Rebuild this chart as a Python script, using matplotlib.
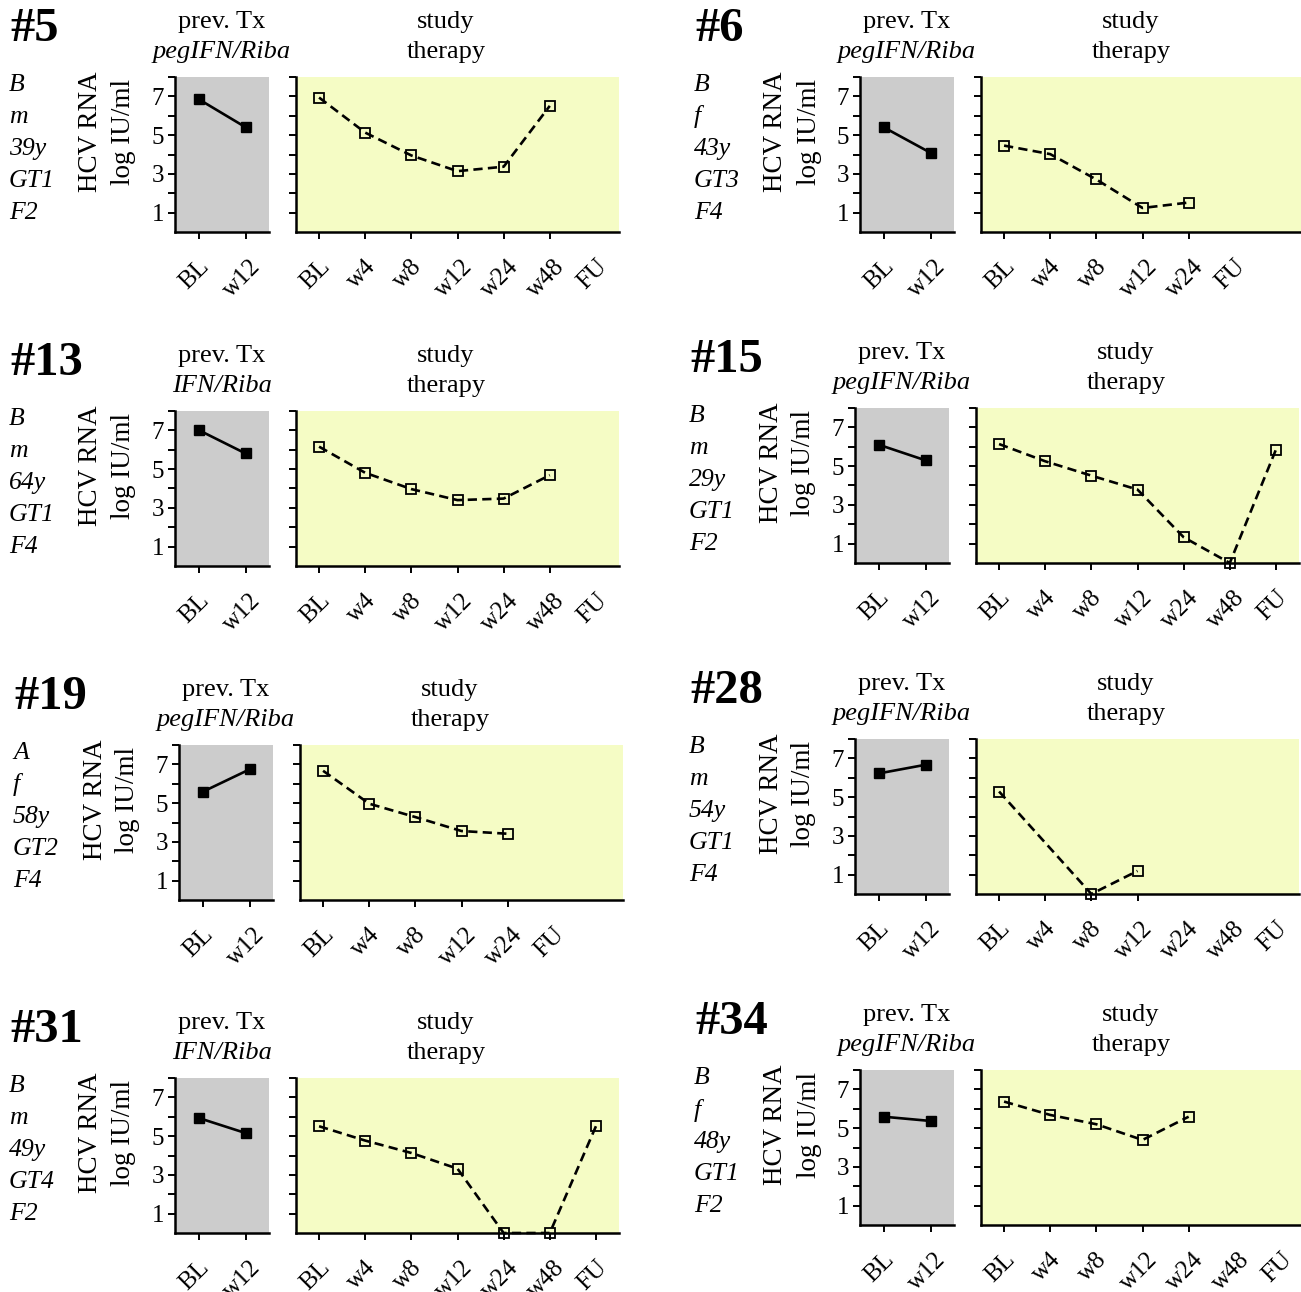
import matplotlib.pyplot as plt
from matplotlib.transforms import ScaledTranslation

plt.rcParams['font.family'] = ['Liberation Serif', 'DejaVu Serif']

# ---- data ----
patients = ['#5', '#6', '#13', '#15', '#19', '#28', '#31', '#34']
info = [['B', 'm', '39y', 'GT1', 'F2'],
        ['B', 'f', '43y', 'GT3', 'F4'],
        ['B', 'm', '64y', 'GT1', 'F4'],
        ['B', 'm', '29y', 'GT1', 'F2'],
        ['A', 'f', '58y', 'GT2', 'F4'],
        ['B', 'm', '54y', 'GT1', 'F4'],
        ['B', 'm', '49y', 'GT4', 'F2'],
        ['B', 'f', '48y', 'GT1', 'F2']]
prev_tx = ['pegIFN/Riba', 'pegIFN/Riba', 'IFN/Riba', 'pegIFN/Riba',
           'pegIFN/Riba', 'pegIFN/Riba', 'IFN/Riba', 'pegIFN/Riba']

prev_labels = ['BL', 'w12']
prev_vals = [[6.86, 5.41], [5.41, 4.09], [7.02, 5.81], [6.11, 5.30],
             [5.58, 6.74], [6.22, 6.67], [5.94, 5.16], [5.59, 5.37]]

labels_full = ['BL', 'w4', 'w8', 'w12', 'w24', 'w48', 'FU']
labels_short = ['BL', 'w4', 'w8', 'w12', 'w24', 'FU']
study_labels = [labels_full, labels_short, labels_full, labels_full,
                labels_short, labels_full, labels_full, labels_full]
study_x = [[0, 1, 2, 3, 4, 5],
           [0, 1, 2, 3, 4],
           [0, 1, 2, 3, 4, 5],
           [0, 1, 2, 3, 4, 5, 6],
           [0, 1, 2, 3, 4],
           [0, 2, 3],
           [0, 1, 2, 3, 4, 5, 6],
           [0, 1, 2, 3, 4]]
study_vals = [[6.94, 5.13, 3.95, 3.14, 3.37, 6.51],
              [4.46, 4.02, 2.71, 1.24, 1.52],
              [6.16, 4.81, 3.97, 3.40, 3.48, 4.69],
              [6.14, 5.25, 4.51, 3.79, 1.33, 0.0, 5.85],
              [6.67, 4.97, 4.28, 3.56, 3.42],
              [5.29, 0.0, 1.19],
              [5.51, 4.77, 4.13, 3.32, 0.0, 0.0, 5.51],
              [6.37, 5.68, 5.20, 4.39, 5.59]]

# panel anchors in pixels: (left of grey axes, top of axes)
anchors = [(175, 77), (860, 77), (175, 411), (855, 408),
           (179, 745), (855, 739), (175, 1078), (860, 1070)]

W, H = 1301, 1292
fig = plt.figure(figsize=(W / 100, H / 100), dpi=100)

GREY = '#cccccc'
YELLOW = '#f5fcc5'


def fx(px):
    return px / W


def fy(py):
    return 1 - py / H


def style_axes(ax, color, labels, last_tick, show_ylabels):
    ax.set_facecolor(color)
    for s in ['top', 'right']:
        ax.spines[s].set_visible(False)
    for s in ['left', 'bottom']:
        ax.spines[s].set_linewidth(1.8)
    ax.set_ylim(0, 8)
    ax.set_yticks([1, 3, 5, 7])
    ax.set_yticks([2, 4, 6, 8], minor=True)
    ax.tick_params(axis='y', which='both', direction='out', length=5, width=1.4,
                   labelsize=18, pad=3)
    if show_ylabels:
        ax.set_yticklabels(['1', '3', '5', '7'])
    else:
        ax.set_yticklabels([])
    ax.set_xticks(range(len(labels)))
    ax.set_xticklabels(labels, rotation=45, ha='center', va='top', fontsize=18)
    ax.tick_params(axis='x', direction='out', length=5, width=1.4, pad=12)
    shift = ScaledTranslation(-4 / 100, 0, fig.dpi_scale_trans)
    for lab in ax.get_xticklabels():
        lab.set_transform(lab.get_transform() + shift)
    for k, t in enumerate(ax.xaxis.get_major_ticks()):
        if k > last_tick:
            t.tick1line.set_markersize(0)


for i, p in enumerate(patients):
    gx, ty = anchors[i]
    ah = 155
    ax1 = fig.add_axes([fx(gx), fy(ty + ah), 94 / W, ah / H])
    ax2 = fig.add_axes([fx(gx + 121), fy(ty + ah), 323 / W, ah / H])

    ax1.plot(range(len(prev_labels)), prev_vals[i], color='black', lw=1.9,
             marker='s', ms=7.5, mfc='black', mec='black', clip_on=False)
    ax1.set_xlim(-0.5, 1.5)
    style_axes(ax1, GREY, prev_labels, len(prev_labels) - 1, True)

    ax2.plot(study_x[i], study_vals[i], color='black', lw=1.9, ls=(0, (3.5, 2)),
             marker='s', ms=7.5, mfc='none', mec='black', mew=1.3, clip_on=False)
    ax2.set_xlim(-0.5, 6.5)
    style_axes(ax2, YELLOW, study_labels[i], max(study_x[i]), False)

    # texts round the panel
    fig.text(fx(gx - 165), fy(ty - 48), p, fontsize=35, weight='bold',
             ha='left', va='center')
    for j, s in enumerate(info[i]):
        fig.text(fx(gx - 166), fy(ty + 8 + 32 * j), s, fontsize=18.5,
                 style='italic', ha='left', va='center')
    fig.text(fx(gx - 84), fy(ty + 55), 'HCV RNA', fontsize=19.5, rotation=90,
             ha='center', va='center')
    fig.text(fx(gx - 51), fy(ty + 55), 'log IU/ml', fontsize=19.5, rotation=90,
             ha='center', va='center')
    fig.text(fx(gx + 47), fy(ty - 55), 'prev. Tx', fontsize=19,
             ha='center', va='center')
    fig.text(fx(gx + 47), fy(ty - 25), prev_tx[i], fontsize=19, style='italic',
             ha='center', va='center')
    fig.text(fx(gx + 271), fy(ty - 55), 'study', fontsize=19,
             ha='center', va='center')
    fig.text(fx(gx + 271), fy(ty - 25), 'therapy', fontsize=19,
             ha='center', va='center')

fig.savefig('out.png', dpi=100)
